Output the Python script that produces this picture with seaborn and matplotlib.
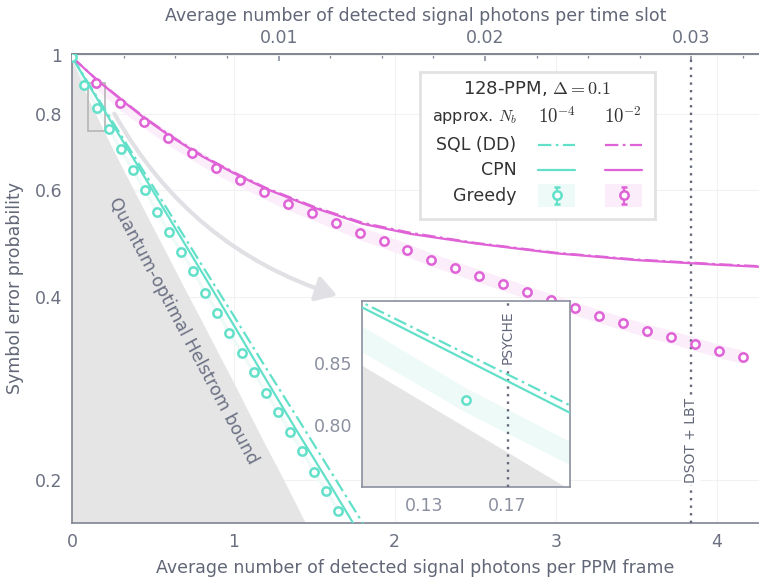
import matplotlib
matplotlib.use("Agg")
import matplotlib.pyplot as plt
import seaborn as sns
from matplotlib.patches import Rectangle, FancyArrowPatch
from matplotlib.ticker import FixedLocator, MultipleLocator, NullFormatter, FormatStrFormatter

# values
helstrom_x = [0.0, 0.1, 0.2, 0.3, 0.4, 0.5, 0.6, 0.7, 0.8, 0.9, 1.0, 1.1, 1.2, 1.3, 1.4, 1.5]
helstrom_y = [0.992, 0.848, 0.748, 0.662, 0.588, 0.522, 0.464, 0.412, 0.367, 0.326,
              0.290, 0.257, 0.228, 0.203, 0.180, 0.159]

low_x = [0.0, 0.1, 0.2, 0.4, 0.6, 0.8, 1.0, 1.2, 1.4, 1.6, 1.8, 1.9]
cpn_low = [0.992, 0.895, 0.810, 0.662, 0.540, 0.441, 0.360, 0.293, 0.239, 0.196, 0.160, 0.145]
sql_low = [0.992, 0.899, 0.816, 0.671, 0.552, 0.453, 0.373, 0.306, 0.252, 0.207, 0.170, 0.154]

high_x = [0.0, 0.15, 0.3, 0.45, 0.6, 0.8, 1.0, 1.2, 1.5, 1.8, 2.1, 2.5, 3.0, 3.5, 4.0, 4.3]
cpn_high = [0.992, 0.912, 0.846, 0.787, 0.738, 0.683, 0.640, 0.603, 0.561, 0.528,
            0.508, 0.490, 0.472, 0.460, 0.452, 0.448]
sql_high = [0.992, 0.913, 0.848, 0.789, 0.740, 0.685, 0.642, 0.605, 0.563, 0.530,
            0.510, 0.491, 0.473, 0.461, 0.453, 0.449]

greedy_low_x = [0.0, 0.075, 0.15, 0.225, 0.3, 0.375, 0.45, 0.525, 0.6, 0.675, 0.75, 0.825,
                0.9, 0.975, 1.05, 1.125, 1.2, 1.275, 1.35, 1.425, 1.5, 1.575, 1.65]
greedy_low = [0.992, 0.894, 0.820, 0.756, 0.700, 0.647, 0.599, 0.552, 0.511, 0.475, 0.441, 0.406,
              0.377, 0.349, 0.324, 0.301, 0.278, 0.259, 0.240, 0.223, 0.206, 0.192, 0.178]

greedy_high_x = [0.149, 0.297, 0.446, 0.594, 0.743, 0.891, 1.040, 1.188, 1.337, 1.485, 1.634,
                 1.782, 1.931, 2.079, 2.228, 2.376, 2.525, 2.673, 2.822, 2.970, 3.119, 3.267,
                 3.416, 3.564, 3.713, 3.861, 4.010, 4.158]
greedy_high = [0.902, 0.834, 0.778, 0.730, 0.690, 0.653, 0.623, 0.596, 0.570, 0.550, 0.530,
               0.510, 0.494, 0.478, 0.461, 0.447, 0.433, 0.420, 0.407, 0.395, 0.383, 0.372,
               0.362, 0.352, 0.344, 0.335, 0.326, 0.319]

band_low, band_high = 0.012, 0.025
err_rel = 0.004
slots_per_frame = 128
dsot_x = 3.84
psyche_x = 0.17

teal = "#63e0c9"
magenta = "#df62d6"
teal_light = "#eefaf7"
magenta_light = "#fbedf9"
gray_fill = "#e5e5e5"
spine_c = "#7f8493"
text_c = "#626778"
tick_c = "#6c7182"
dashdot = (0, (6, 2, 1.2, 2))
dotted = (0, (1, 2.2))

sns.set_theme(style="white")
plt.rcParams["font.family"] = ["DejaVu Sans"]
plt.rcParams["mathtext.fontset"] = "cm"

fig = plt.figure(figsize=(7.59, 5.78), dpi=100)
ax = fig.add_axes([0.0953, 0.0952, 0.9047, 0.8114])


def draw(a, inset=False):
    a.fill_between(helstrom_x, 0.01, helstrom_y, color=gray_fill, lw=0, zorder=1)
    lo = [v * (1 - band_low) for v in greedy_low]
    hi = [v * (1 + band_low) for v in greedy_low]
    a.fill_between(greedy_low_x, lo, hi, color=teal_light, lw=0, zorder=2)
    if not inset:
        lo = [v * (1 - band_high) for v in greedy_high]
        hi = [v * (1 + band_high) for v in greedy_high]
        a.fill_between(greedy_high_x, lo, hi, color=magenta_light, lw=0, zorder=2)
    sns.lineplot(x=low_x, y=sql_low, ax=a, color=teal, lw=1.6, linestyle=dashdot, zorder=4)
    sns.lineplot(x=low_x, y=cpn_low, ax=a, color=teal, lw=1.6, zorder=4)
    if not inset:
        sns.lineplot(x=high_x, y=sql_high, ax=a, color=magenta, lw=1.6, linestyle=dashdot, zorder=4)
        sns.lineplot(x=high_x, y=cpn_high, ax=a, color=magenta, lw=1.6, zorder=4)
    a.errorbar(greedy_low_x, greedy_low, yerr=[v * err_rel for v in greedy_low], fmt="o",
               ms=6, mfc="white", mec=teal, mew=1.8, ecolor=teal, elinewidth=1.0,
               capsize=0, zorder=5)
    if not inset:
        a.errorbar(greedy_high_x, greedy_high, yerr=[v * err_rel for v in greedy_high], fmt="o",
                   ms=6, mfc="white", mec=magenta, mew=1.8, ecolor=magenta, elinewidth=1.0,
                   capsize=0, zorder=5)


draw(ax)

ax.set_yscale("log")
ax.set_xlim(0, 4.26)
ax.set_ylim(0.1698, 1.005)
ax.yaxis.set_major_locator(FixedLocator([0.2, 0.4, 0.6, 0.8, 1.0]))
ax.yaxis.set_major_formatter(FormatStrFormatter("%g"))
ax.yaxis.set_minor_locator(FixedLocator([0.3, 0.5, 0.7, 0.9]))
ax.yaxis.set_minor_formatter(NullFormatter())
ax.xaxis.set_major_locator(MultipleLocator(1))
ax.xaxis.set_minor_locator(MultipleLocator(0.25))
ax.grid(True, which="major", color="#f2f2f2", lw=0.8)
ax.set_axisbelow(True)

for s in ["left", "bottom", "top"]:
    ax.spines[s].set_color(spine_c)
    ax.spines[s].set_linewidth(1.2)
ax.spines["right"].set_visible(False)
ax.tick_params(which="both", direction="in", color=spine_c, labelcolor=tick_c,
               labelsize=12.5, pad=7)
ax.tick_params(which="major", length=5, width=1.1)
ax.tick_params(which="minor", length=3, width=0.9)
ax.tick_params(axis="y", which="both", right=False)

ax.set_xlabel("Average number of detected signal photons per PPM frame",
              fontsize=12.5, color=text_c, labelpad=6)
ax.set_ylabel("Symbol error probability", fontsize=12.5, color=text_c, labelpad=8)

top = ax.secondary_xaxis("top", functions=(lambda x: x / slots_per_frame,
                                           lambda t: t * slots_per_frame))
top.xaxis.set_major_locator(FixedLocator([0.01, 0.02, 0.03]))
top.xaxis.set_major_formatter(FormatStrFormatter("%.2f"))
top.xaxis.set_minor_locator(MultipleLocator(0.0025))
top.tick_params(which="both", direction="in", color=spine_c, labelcolor=tick_c,
                labelsize=12.5, pad=5)
top.tick_params(which="major", length=5, width=1.1)
top.tick_params(which="minor", length=3, width=0.9)
top.spines["top"].set_color(spine_c)
top.spines["top"].set_linewidth(1.2)
top.set_xlabel("Average number of detected signal photons per time slot",
               fontsize=12.5, color=text_c, labelpad=6)

ax.axvline(dsot_x, color="#656a7a", ls=dotted, lw=1.7, zorder=3)
ax.text(dsot_x, 0.232, "DSOT + LBT", rotation=90, ha="center", va="center",
        fontsize=10, color=text_c, zorder=6,
        bbox=dict(fc="white", ec="none", pad=1.5))

ax.text(0.686, 0.352, "Quantum-optimal Helstrom bound", rotation=-62,
        rotation_mode="anchor", ha="center", va="center", fontsize=12.5,
        color="#6c7184", zorder=3)

ax.add_patch(Rectangle((0.1, 0.75), 0.1, 0.15, fill=False, ec="#b5b5b5", lw=1.2, zorder=3))
arrow = FancyArrowPatch((0.252, 0.809), (1.659, 0.401), connectionstyle="arc3,rad=0.2",
                        arrowstyle="-|>,head_length=0.9,head_width=0.55",
                        mutation_scale=14, color="#e1e1e5", lw=3, zorder=3)
ax.add_patch(arrow)

# inset
axi = fig.add_axes([0.477, 0.157, 0.274, 0.322])
axi.set_facecolor("white")
draw(axi, inset=True)
axi.set_xlim(0.1, 0.2)
axi.set_ylim(0.75, 0.90)
axi.xaxis.set_major_locator(FixedLocator([0.13, 0.17]))
axi.yaxis.set_major_locator(FixedLocator([0.80, 0.85]))
axi.xaxis.set_major_formatter(FormatStrFormatter("%.2f"))
axi.yaxis.set_major_formatter(FormatStrFormatter("%.2f"))
for s in axi.spines.values():
    s.set_color("#8b90a0")
    s.set_linewidth(1.2)
axi.tick_params(direction="in", length=5, width=1.1, color="#8b90a0",
                labelcolor="#8b90a0", labelsize=12.5, pad=7)
axi.axvline(psyche_x, color="#656a7a", ls=dotted, lw=1.7, zorder=3)
axi.text(psyche_x, 0.871, "PSYCHE", rotation=90, ha="center", va="center",
         fontsize=10, color=text_c, zorder=6, bbox=dict(fc="white", ec="none", pad=1.5))

# legend box
leg = fig.add_axes([0.5534, 0.6211, 0.3096, 0.2548])
leg.set_xlim(0, 1)
leg.set_ylim(0, 1)
leg.set_xticks([])
leg.set_yticks([])
for s in leg.spines.values():
    s.set_color("#e2e2e2")
    s.set_linewidth(2)
leg.text(0.497, 0.887, r"128-PPM, $\Delta = 0.1$", ha="center", va="center",
         fontsize=13, color="#333333")
leg.text(0.414, 0.695, r"approx. $N_b$", ha="right", va="center", fontsize=11.5, color="#333333")
leg.text(0.582, 0.695, r"$10^{-4}$", ha="center", va="center", fontsize=13.5, color="#333333")
leg.text(0.863, 0.695, r"$10^{-2}$", ha="center", va="center", fontsize=13.5, color="#333333")
rows = ["SQL (DD)", "CPN", "Greedy"]
row_y = [0.502, 0.333, 0.156]
for label, yy in zip(rows, row_y):
    leg.text(0.41, yy, label, ha="right", va="center", fontsize=12.5, color="#333333")
for c, cl, x0 in [(teal, teal_light, 0.503), (magenta, magenta_light, 0.787)]:
    leg.plot([x0, x0 + 0.158], [0.502, 0.502], color=c, lw=1.6, ls=dashdot)
    leg.plot([x0, x0 + 0.158], [0.333, 0.333], color=c, lw=1.6)
    leg.add_patch(Rectangle((x0, 0.084), 0.158, 0.152, color=cl, lw=0))
    leg.errorbar([x0 + 0.079], [0.16], yerr=[0.055], fmt="o", ms=6, mfc="white", mec=c,
                 mew=1.8, ecolor=c, elinewidth=1.5, capsize=2.5, capthick=1.5)

fig.savefig("out.png", dpi=100)
